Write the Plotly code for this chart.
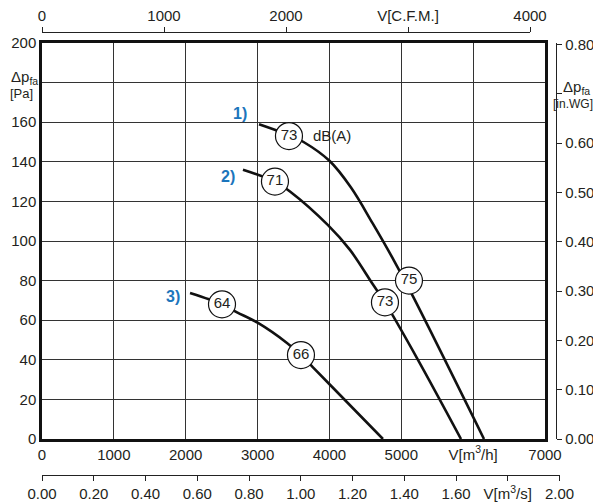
import plotly.graph_objects as go

# ---------------- data ----------------
# fan curves: volume flow V [m3/h], static pressure dp_fa [Pa]
curve1_q = [3020, 3437, 3640, 4000, 4300, 4600, 4900, 5163, 6151]
curve1_p = [159, 153.5, 150, 140.5, 127, 109, 90, 72, 0]
curve2_q = [2797, 3242, 3451, 3980, 4286, 4606, 4773, 5232, 5831]
curve2_p = [136, 130, 125, 108, 95.5, 78, 69, 40, 0]
curve3_q = [2060, 2505, 2714, 3006, 3409, 3604, 3771, 4008, 4745]
curve3_p = [73.7, 68, 64, 58.6, 48.5, 42.4, 36.2, 27.4, 0]

# sound level markers dB(A)
noise_q = [3437, 5107, 3242, 4773, 2505, 3604]
noise_p = [153, 80, 130, 69, 68, 42.4]
noise_lbl = ["73", "75", "71", "73", "64", "66"]

curve_names = ["1)", "2)", "3)"]
curve_name_q = [2755, 2588, 1823]
curve_name_p = [164.6, 132.8, 72.2]

# axes ticks
x_m3h_ticks = [0, 1000, 2000, 3000, 4000, 5000, 6000, 7000]
x_m3h_text = ["0", "1000", "2000", "3000", "4000", "5000", "V[m<sup>3</sup>/h]", "7000"]
y_pa_ticks = [0, 20, 40, 60, 80, 100, 120, 140, 160, 180, 200]
y_pa_text = ["0", "20", "40", "60", "80", "100", "120", "140", "160", "", "200"]
x_cfm_ticks = [0, 1000, 2000, 3000, 4000]
x_cfm_text = ["0", "1000", "2000", "V[C.F.M.]", "4000"]
x_m3s_ticks = [0, 0.2, 0.4, 0.6, 0.8, 1.0, 1.2, 1.4, 1.6, 1.8, 2.0]
x_m3s_text = ["0.00", "0.20", "0.40", "0.60", "0.80", "1.00", "1.20", "1.40", "1.60",
              "V[m<sup>3</sup>/s]", "2.00"]
y_inwg_ticks = [0, 0.1, 0.2, 0.3, 0.4, 0.5, 0.6, 0.7, 0.8]
y_inwg_text = ["0.00", "0.10", "0.20", "0.30", "0.40", "0.50", "0.60", "", "0.80"]

# ---------------- layout geometry ----------------
# page body has an 8px margin: the figure starts at window pixel (8, 8)
OFF = 8
W, H = 601 - OFF, 502 - OFF
def px(x):
    return (x - OFF) / W
def py(y):
    return (502 - y) / H

TXT = "#231f20"
FONT = "Liberation Sans, Arial, sans-serif"
BLUE = "#1b75bc"
GRID = "#333333"

fig = go.Figure()

for q, p in [(curve1_q, curve1_p), (curve2_q, curve2_p), (curve3_q, curve3_p)]:
    fig.add_trace(go.Scatter(x=q, y=p, mode="lines",
                             line=dict(color="#111111", width=2.6, shape="spline", smoothing=1.0),
                             hoverinfo="skip", showlegend=False))

fig.add_trace(go.Scatter(x=noise_q, y=noise_p, mode="markers+text", text=noise_lbl,
                         textposition="middle center",
                         textfont=dict(size=15, color=TXT, family=FONT),
                         marker=dict(size=27, color="white", line=dict(color="#111111", width=1.2)),
                         hoverinfo="skip", showlegend=False))

# dummy traces to realise the secondary axes
fig.add_trace(go.Scatter(x=[0], y=[0], xaxis="x2", yaxis="y2", mode="markers",
                         marker=dict(opacity=0), hoverinfo="skip", showlegend=False))
fig.add_trace(go.Scatter(x=[0], y=[0], xaxis="x3", yaxis="y2", mode="markers",
                         marker=dict(opacity=0), hoverinfo="skip", showlegend=False))

tickfont = dict(size=15, color=TXT, family=FONT)
ydom = [py(439), py(43)]

fig.update_layout(
    width=W, height=H, autosize=False,
    margin=dict(l=0, r=0, t=0, b=0, pad=0),
    paper_bgcolor="white", plot_bgcolor="rgba(0,0,0,0)",
    font=dict(family=FONT, color=TXT, size=15),
    xaxis=dict(domain=[px(42), px(545)], range=[0, 7000], tickmode="array",
               tickvals=x_m3h_ticks, ticktext=x_m3h_text, tickfont=tickfont,
               showgrid=True, gridcolor=GRID, gridwidth=1, zeroline=False,
               showline=True, linecolor="#111111", linewidth=2.5, mirror=True,
               ticks="", automargin=False, fixedrange=True),
    yaxis=dict(domain=ydom, range=[0, 200], tickmode="array",
               tickvals=y_pa_ticks, ticktext=y_pa_text, tickfont=tickfont,
               showgrid=True, gridcolor=GRID, gridwidth=1, zeroline=False,
               showline=True, linecolor="#111111", linewidth=2.5, mirror=True,
               ticks="", automargin=False, fixedrange=True),
    xaxis2=dict(domain=[px(42), px(530)], range=[0, 4000], anchor="free", position=py(32),
                side="top", tickmode="array", tickvals=x_cfm_ticks, ticktext=x_cfm_text,
                tickfont=tickfont, ticks="outside", ticklen=5, tickcolor="#222222",
                showline=True, linecolor="#222222", linewidth=1.3, showgrid=False,
                zeroline=False, automargin=False, fixedrange=True),
    xaxis3=dict(domain=[px(42), px(559.5)], range=[0, 2.0], anchor="free", position=py(475),
                side="bottom", tickmode="array", tickvals=x_m3s_ticks, ticktext=x_m3s_text,
                tickfont=tickfont, ticks="outside", ticklen=5, tickcolor="#222222",
                showline=True, linecolor="#222222", linewidth=1.3, showgrid=False,
                zeroline=False, automargin=False, fixedrange=True),
    yaxis2=dict(domain=ydom, range=[0, 200 / 249.089], anchor="free", position=px(556),
                side="right", tickmode="array", tickvals=y_inwg_ticks, ticktext=y_inwg_text,
                tickfont=tickfont, ticks="outside", ticklen=5, tickcolor="#222222",
                showline=True, linecolor="#222222", linewidth=1.3, showgrid=False,
                zeroline=False, automargin=False, fixedrange=True),
)

for name, q, p in zip(curve_names, curve_name_q, curve_name_p):
    fig.add_annotation(x=q, y=p, xref="x", yref="y", text="<b>" + name + "</b>",
                       showarrow=False, xanchor="center", yanchor="middle",
                       font=dict(size=16, color=BLUE, family=FONT))

fig.add_annotation(x=4036, y=153.5, xref="x", yref="y", text="dB(A)", showarrow=False,
                   xanchor="center", yanchor="middle",
                   font=dict(size=15, color=TXT, family=FONT))

# axis titles
def title(x, y, text, size):
    fig.add_annotation(x=px(x), y=py(y), xref="paper", yref="paper", text=text,
                       showarrow=False, xanchor="center", yanchor="middle", borderpad=0,
                       font=dict(size=size, color=TXT, family=FONT))

title(24, 77, "Δp<sub>fa</sub>", 15)
title(21, 94, "[Pa]", 13)
title(576, 87, "Δp<sub>fa</sub>", 15)
title(573, 104, "[in.WG]", 12)

fig.write_html("out.html")
